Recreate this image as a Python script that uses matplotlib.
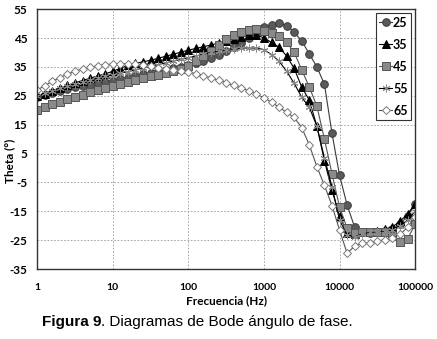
import numpy as np
import matplotlib
matplotlib.use("Agg")
import matplotlib.pyplot as plt
from matplotlib.ticker import FixedLocator, FixedFormatter

plt.rcParams["axes.unicode_minus"] = False

# frequency points, 10 per decade from 1 Hz to 100 kHz
log_f = [i / 10 for i in range(51)]
freq = [10 ** v for v in log_f]

theta_25 = [24.5, 25.2, 25.9, 26.6, 27.3, 27.9, 28.4, 28.9, 29.4, 29.9,
            30.3, 30.8, 31.3, 31.9, 32.4, 33.0, 33.5, 34.0, 34.5, 35.0,
            35.5, 36.3, 37.2, 38.2, 39.3, 40.5, 41.8, 43.3, 45.0, 47.0,
            48.8, 49.6, 50.2, 49.3, 47.0, 44.0, 39.5, 35.0, 29.0, 12.0,
            -2.5, -12.8, -20.5, -22.3, -22.5, -22.2, -21.8, -21.0, -19.5, -16.5,
            -12.5]
theta_35 = [24.8, 25.8, 26.8, 27.7, 28.6, 29.5, 30.3, 31.1, 31.9, 32.6,
            33.5, 34.5, 35.5, 36.2, 36.8, 37.3, 38.0, 38.7, 39.4, 40.1,
            40.8, 41.4, 42.0, 42.6, 43.3, 44.0, 44.8, 45.5, 46.0, 46.2,
            45.0, 43.5, 41.8, 38.8, 34.5, 28.0, 23.5, 14.5, 2.5, -7.7,
            -16.5, -22.5, -22.8, -22.3, -22.0, -21.8, -21.2, -20.3, -18.5, -15.8,
            -12.5]
theta_45 = [20.0, 21.0, 22.0, 22.9, 23.8, 24.6, 25.4, 26.2, 27.0, 27.8,
            28.5, 29.2, 29.9, 30.6, 31.2, 31.7, 32.3, 33.0, 33.7, 34.4,
            35.2, 37.0, 38.8, 40.5, 42.5, 44.5, 46.0, 47.2, 47.8, 48.0,
            47.6, 46.8, 45.7, 43.5, 40.0, 34.0, 28.0, 21.5, 10.0, -2.0,
            -13.5, -20.8, -22.5, -22.3, -22.0, -22.0, -22.3, -23.5, -25.5, -24.5,
            -19.5]
theta_55 = [25.0, 25.9, 26.8, 27.6, 28.4, 29.2, 29.9, 30.5, 31.1, 31.7,
            32.2, 32.8, 33.4, 34.0, 34.6, 35.2, 35.8, 36.4, 37.0, 37.6,
            38.2, 38.8, 39.4, 40.0, 40.5, 41.0, 41.3, 41.5, 41.6, 41.5,
            41.0, 39.3, 37.0, 33.5, 29.3, 24.5, 21.0, 14.5, 3.5, -6.5,
            -18.0, -23.3, -23.8, -22.8, -22.3, -22.0, -21.8, -21.3, -20.0, -18.0,
            -15.0]
theta_65 = [27.0, 28.5, 30.0, 31.3, 32.5, 33.5, 34.3, 34.9, 35.4, 35.8,
            36.0, 36.1, 36.1, 35.9, 35.6, 35.2, 34.8, 34.4, 34.0, 33.6,
            33.2, 32.7, 32.0, 31.2, 30.4, 29.5, 28.6, 27.7, 26.7, 25.6,
            24.3, 22.8, 21.0, 19.3, 17.5, 14.0, 8.0, 0.5, -6.0, -13.0,
            -21.5, -29.5, -27.0, -25.8, -26.0, -25.3, -24.8, -24.2, -23.0, -20.5,
            -17.0]

labels = ["25", "35", "45", "55", "65"]
x_ticks = [1, 10, 100, 1000, 10000, 100000]
x_tick_labels = ["1", "10", "100", "1000", "10000", "100000"]
y_ticks = [55, 45, 35, 25, 15, 5, -5, -15, -25, -35]

fig = plt.figure(figsize=(4.37, 3.39), dpi=100)
ax = fig.add_axes([0.085, 0.206, 0.865, 0.767])

styles = [
    dict(marker="o", color="#3a3a3a", mfc="#5a5a5a", mec="#3a3a3a", ms=5.5),
    dict(marker="^", color="#000000", mfc="#000000", mec="#000000", ms=5.5),
    dict(marker="s", color="#555555", mfc="#8a8a8a", mec="#555555", ms=5.5),
    dict(marker=(6, 2, 0), color="#000000", mfc="#888888", mec="#888888", ms=5.5),
    dict(marker="D", color="#555555", mfc="white", mec="#777777", ms=4.5),
]
series = [theta_25, theta_35, theta_45, theta_55, theta_65]

for vals, lab, st in zip(series, labels, styles):
    ax.plot(freq, vals, lw=0.8, label=lab, mew=0.7, **st)

ax.set_xscale("log")
ax.set_xlim(1, 100000)
ax.set_ylim(-35, 55)
ax.xaxis.set_major_locator(FixedLocator(x_ticks))
ax.xaxis.set_major_formatter(FixedFormatter(x_tick_labels))
ax.xaxis.set_minor_locator(FixedLocator([]))
ax.set_yticks(y_ticks)
ax.grid(True, color="#999999", ls=(0, (2, 2)), lw=0.6)
ax.tick_params(axis="x", length=0, labelsize=7.5, pad=10)
ax.tick_params(axis="y", length=0, labelsize=8.5, pad=7)
for t in ax.get_xticklabels() + ax.get_yticklabels():
    t.set_fontweight("bold")
    t.set_family("Lato")
for s in ax.spines.values():
    s.set_color("#333333")
    s.set_linewidth(1.0)

ax.set_xlabel("Frecuencia (Hz)", fontsize=8.5, fontweight="bold", family="Lato", labelpad=2)
ax.set_ylabel("Theta (°)", fontsize=8.5, fontweight="bold", family="Lato")
ax.yaxis.label.set_va("center")
ax.yaxis.set_label_coords(-0.072, 0.415)

leg = ax.legend(loc="upper right", prop={"family": "Lato", "weight": "bold", "size": 9},
                handlelength=1.0, handletextpad=0.1, borderpad=0.3, labelspacing=0.8,
                fancybox=False, framealpha=1, borderaxespad=0.3)
leg.get_frame().set_edgecolor("#333333")
leg.get_frame().set_linewidth(0.8)

# caption: bold part followed by normal part
t1 = fig.text(0.096, 0.05, "Figura 9", fontsize=11, fontweight="bold",
              family="Liberation Sans", ha="left", va="center")
r = fig.canvas.get_renderer()
bb = t1.get_window_extent(r)
fig.text(bb.x1 / fig.bbox.width, 0.05, ". Diagramas de Bode ángulo de fase.", fontsize=11,
         family="Liberation Sans", ha="left", va="center")

fig.savefig("out.png", dpi=100)
